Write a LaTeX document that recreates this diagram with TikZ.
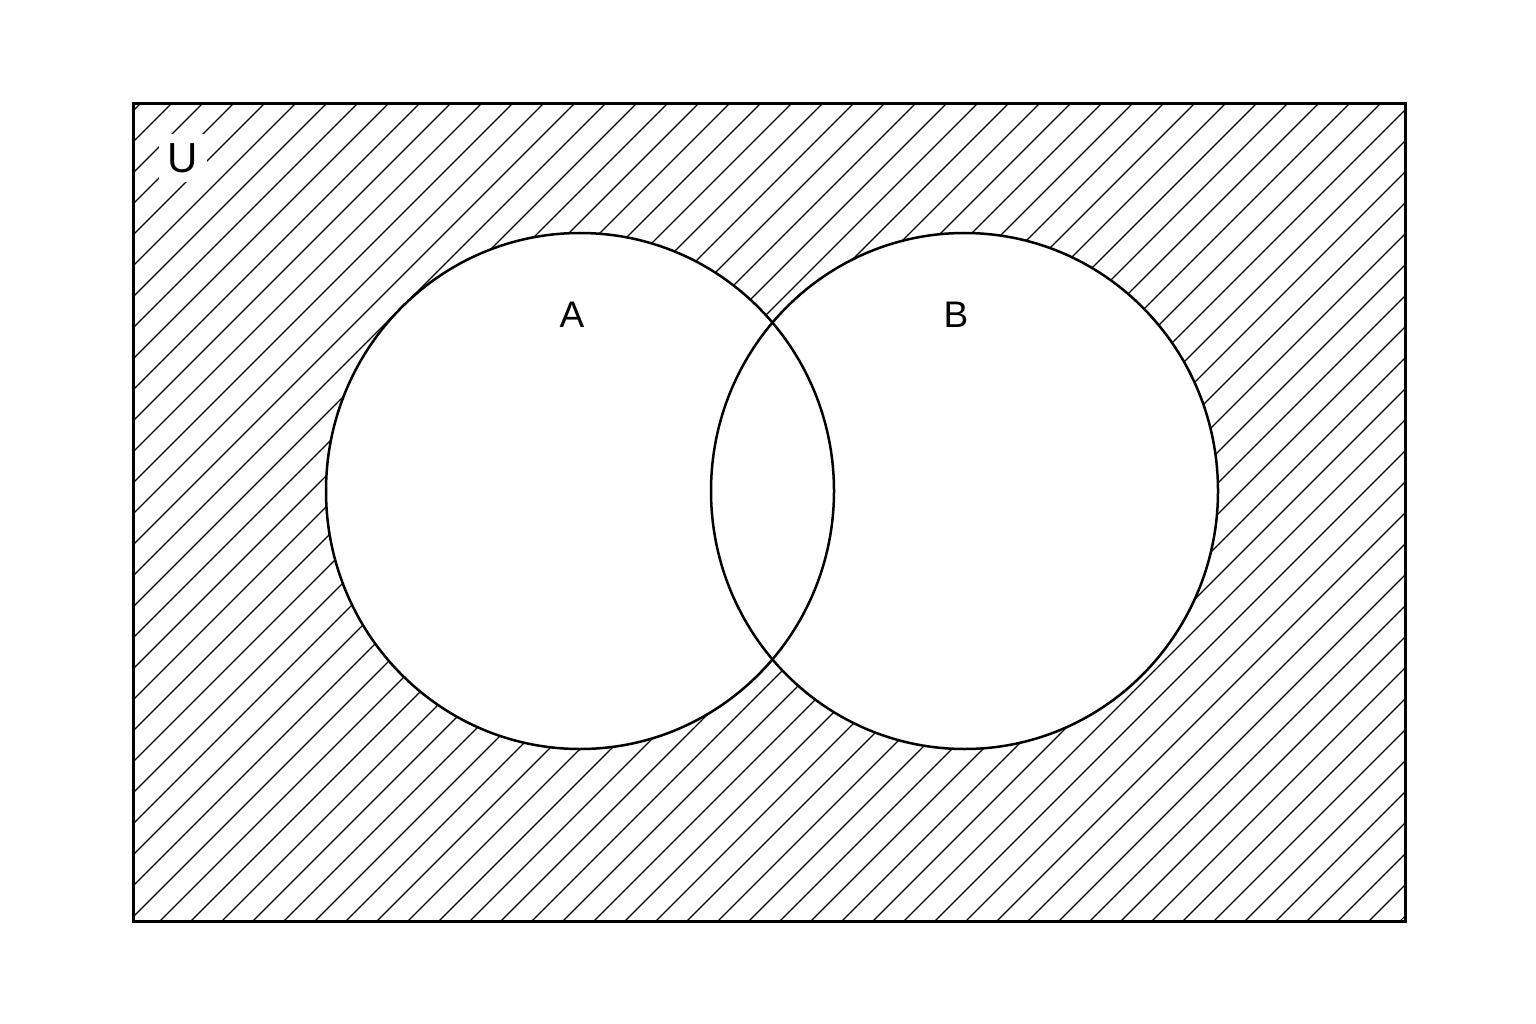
\documentclass[tikz,border=0pt]{standalone}
\usepackage{fontspec}
\setmainfont{Liberation Sans}
\begin{document}
\begin{tikzpicture}[x=1pt,y=-1pt,
  hatch/.style={line width=1.1pt,black},
  frame/.style={line width=3pt,black},
  setline/.style={line width=2.5pt,black},
  setlabel/.style={font=\fontsize{37}{40}\selectfont,inner sep=0pt}]
\useasboundingbox (0,0) rectangle (1536,1024);
\fill[white] (0,0) rectangle (1536,1024);
\begin{scope}
  \clip (133,104) rectangle (1405,921);
  \foreach \c in {213,244,...,2343}
    \draw[hatch] ({\c-921},921) -- ({\c-104},104);
\end{scope}
% circles
\fill[white] (580,491) ellipse [x radius=254, y radius=258];
\fill[white] (964.5,491) ellipse [x radius=253.5, y radius=258];
\draw[setline] (580,491) ellipse [x radius=254, y radius=258];
\draw[setline] (964.5,491) ellipse [x radius=253.5, y radius=258];
% frame
\draw[frame] (133,104) rectangle (1405,921);
% labels
\node[setlabel,font=\fontsize{42}{44}\selectfont,fill=white,inner sep=9pt] (U) at (183,158) {U};
\node[setlabel] (A) at (572,315) {A};
\node[setlabel] (B) at (956,315) {B};
\end{tikzpicture}
\end{document}
